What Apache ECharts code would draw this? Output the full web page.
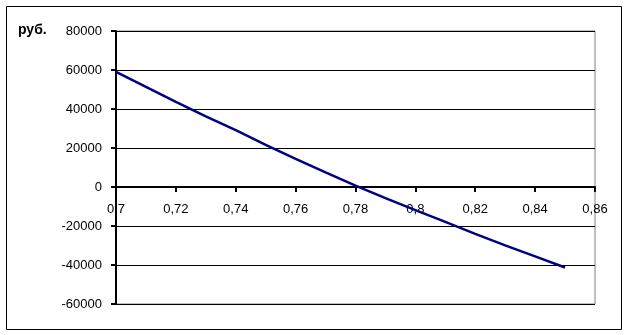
<!DOCTYPE html>
<html>
<head>
<meta charset="utf-8">
<script src="https://cdn.jsdelivr.net/npm/echarts@6/dist/echarts.min.js"></script>
<style>
html,body{margin:0;padding:0;background:#fff;}
#c{width:628px;height:335px;}
</style>
</head>
<body>
<div id="c"></div>
<script>
const xValues = [0.70, 0.71, 0.72, 0.73, 0.74, 0.75, 0.76, 0.77, 0.78, 0.79, 0.80, 0.81, 0.82, 0.83, 0.84, 0.85];
const profit = [59000, 51300, 43700, 36200, 29200, 21600, 14400, 7500, 700, -5700, -11900, -17900, -24000, -29900, -35600, -41300];
const yTicks = { min: -60000, max: 80000, step: 20000 };
const xTicks = { min: 0.70, max: 0.86, step: 0.02 };
const unitLabel = 'руб.';

const gridTop = 31, gridBottom = 31, H = 335;
const plotH = H - gridTop - gridBottom;
const zeroOffset = -plotH * (0 - yTicks.min) / (yTicks.max - yTicks.min);

const chart = echarts.init(document.getElementById('c'));
const font = 'Arial, "Liberation Sans", sans-serif';
chart.setOption({
  animation: false,
  backgroundColor: '#fff',
  grid: { left: 116, right: 33, top: gridTop, bottom: gridBottom, show: true, borderColor: '#808080', borderWidth: 1, backgroundColor: 'transparent' },
  graphic: [
    { type: 'rect', shape: { x: 6.5, y: 6.5, width: 615, height: 323 }, style: { fill: 'none', stroke: '#000', lineWidth: 1 }, silent: true },
    { type: 'text', left: 18, top: 23, style: { text: unitLabel, font: 'bold 14px ' + font, fill: '#000' } }
  ],
  xAxis: {
    type: 'value', min: xTicks.min, max: xTicks.max, interval: xTicks.step,
    position: 'bottom', offset: zeroOffset,
    axisLine: { onZero: false, lineStyle: { color: '#000', width: 2 } },
    axisTick: { show: true, inside: false, length: 5, lineStyle: { color: '#000', width: 2 } },
    axisLabel: { margin: 16, color: '#000', fontSize: 13, fontFamily: font,
      formatter: v => String(+v.toFixed(2)).replace('.', ',') },
    splitLine: { show: false }
  },
  yAxis: {
    type: 'value', min: yTicks.min, max: yTicks.max, interval: yTicks.step,
    axisLine: { show: true, onZero: false, lineStyle: { color: '#000', width: 2 } },
    axisTick: { show: true, length: 5, lineStyle: { color: '#000', width: 2 } },
    axisLabel: { margin: 14, color: '#000', fontSize: 13, fontFamily: font, formatter: v => String(v) },
    splitLine: { show: true, lineStyle: { color: '#000', width: 1 } }
  },
  series: [{
    type: 'line',
    data: xValues.map((x, i) => [x, profit[i]]),
    showSymbol: false,
    symbol: 'none',
    lineStyle: { color: '#000080', width: 2.5 },
    z: 5
  }]
});
</script>
</body>
</html>
